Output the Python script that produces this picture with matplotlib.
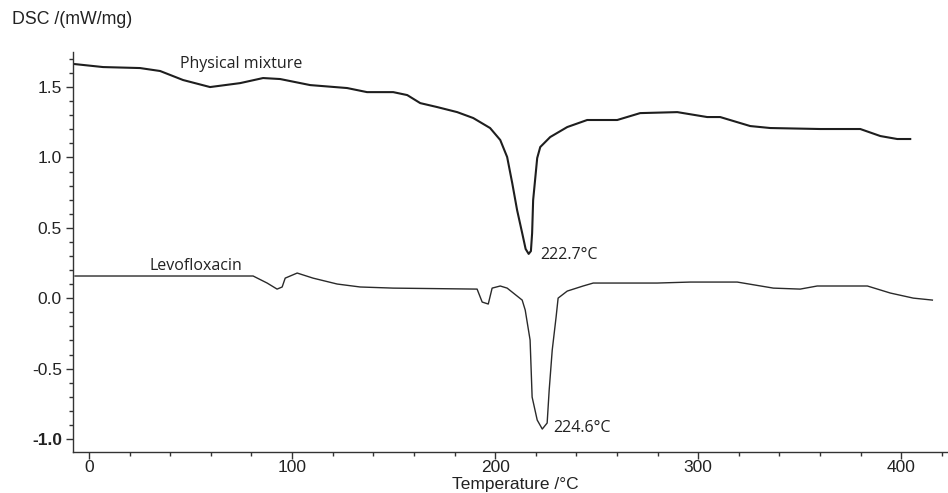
import matplotlib
matplotlib.use("Agg")
import matplotlib.pyplot as plt
from matplotlib.ticker import MultipleLocator

# Physical mixture curve
pm_x = [-6.9, 6.9, 25.1, 35.0, 46.3, 59.6, 74.4, 85.7, 94.1, 108.9, 127.1, 136.9, 149.8,
        156.7, 163.1, 171.4, 181.3, 189.2, 197.5, 202.5, 205.9, 208.4, 210.8, 213.3,
        215.0, 216.5, 217.6, 218.2, 218.7, 220.7, 222.2, 227.1, 235.5, 245.3, 260.1, 271.4,
        289.7, 304.4, 310.8, 325.6, 335.5, 360.1, 379.8, 389.7, 398.0, 404.4]
pm_y = [1.663, 1.642, 1.635, 1.614, 1.550, 1.500, 1.528, 1.564, 1.557, 1.514, 1.493, 1.464,
        1.464, 1.443, 1.386, 1.358, 1.322, 1.280, 1.209, 1.124, 1.003, 0.818, 0.626, 0.463,
        0.350, 0.315, 0.335, 0.463, 0.697, 0.996, 1.074, 1.145, 1.216, 1.266, 1.266, 1.315,
        1.322, 1.287, 1.287, 1.223, 1.209, 1.202, 1.202, 1.152, 1.131, 1.131]

# Levofloxacin curve
lv_x = [-6.9, 80.8, 87.7, 92.6, 95.1, 96.6, 102.5, 110.3, 122.2, 133.5, 149.8, 191.1,
        193.6, 196.6, 198.5, 202.5, 205.9, 213.3, 214.8, 217.2, 218.2, 220.7, 223.2,
        225.6, 226.6, 228.1, 230.0, 231.0, 235.5, 243.3, 248.3, 279.8, 296.1, 319.2,
        337.0, 350.2, 358.6, 383.3, 394.6, 405.9, 415.3]
lv_y = [0.158, 0.158, 0.108, 0.065, 0.080, 0.143, 0.179, 0.143, 0.101, 0.080, 0.072, 0.065,
        -0.027, -0.041, 0.072, 0.087, 0.072, -0.013, -0.084, -0.297, -0.702, -0.865, -0.929,
        -0.886, -0.652, -0.368, -0.134, 0.001, 0.051, 0.087, 0.108, 0.108, 0.115, 0.115,
        0.072, 0.065, 0.087, 0.087, 0.037, 0.001, -0.013]

x_ticks = [0, 100, 200, 300, 400]
y_ticks = [-1.0, -0.5, 0.0, 0.5, 1.0, 1.5]
y_ticklabels = ["-1.0", "-0.5", "0.0", "0.5", "1.0", "1.5"]

fig = plt.figure(figsize=(9.48, 4.93), dpi=100)
ax = fig.add_axes([73/948, 1 - 452/493, 1 - 73/948, (452 - 52)/493])

ax.plot(pm_x, pm_y, color="#1e1e1e", lw=1.5, solid_joinstyle="round")
ax.plot(lv_x, lv_y, color="#2a2a2a", lw=1.0, solid_joinstyle="round")

ax.set_xlim(-7.9, 423)
ax.set_ylim(-1.092, 1.749)

for s in ["top", "right"]:
    ax.spines[s].set_visible(False)
for s in ["left", "bottom"]:
    ax.spines[s].set_color("#333333")
    ax.spines[s].set_linewidth(1.0)

ax.set_xticks(x_ticks)
ax.set_yticks(y_ticks)
ax.set_yticklabels(y_ticklabels)
ax.xaxis.set_minor_locator(MultipleLocator(20))
ax.yaxis.set_minor_locator(MultipleLocator(0.1))
ax.tick_params(axis="both", which="major", direction="out", length=5, width=1, color="#333333",
               labelsize=12.5, labelcolor="#222222")
ax.tick_params(axis="both", which="minor", direction="out", length=3, width=1, color="#333333")
ax.tick_params(axis="y", pad=3)
ax.tick_params(axis="x", pad=1)
for lab in ax.get_yticklabels():
    lab.set_family("Liberation Sans")
    if lab.get_text() == "-1.0":
        lab.set_fontweight("bold")
for lab in ax.get_xticklabels():
    lab.set_family("Liberation Sans")

fig.text(12/948, 1 - 20/493, "DSC /(mW/mg)", family="Liberation Sans", fontsize=12.8,
         color="#222222", ha="left", va="center")
fig.text(515/948, 1 - 492/493, "Temperature /°C", family="Liberation Sans", fontsize=12.5,
         color="#222222", ha="center", va="bottom")

ann = dict(family="Open Sans", fontsize=11.5, color="#222222", va="center", ha="left")
ax.text(44.8, 1.663, "Physical mixture", **ann)
ax.text(30.0, 0.229, "Levofloxacin", **ann)
ax.text(222.2, 0.31, "222.7°C", **ann)
ax.text(228.6, -0.922, "224.6°C", **ann)

fig.savefig("out.png", dpi=100)
